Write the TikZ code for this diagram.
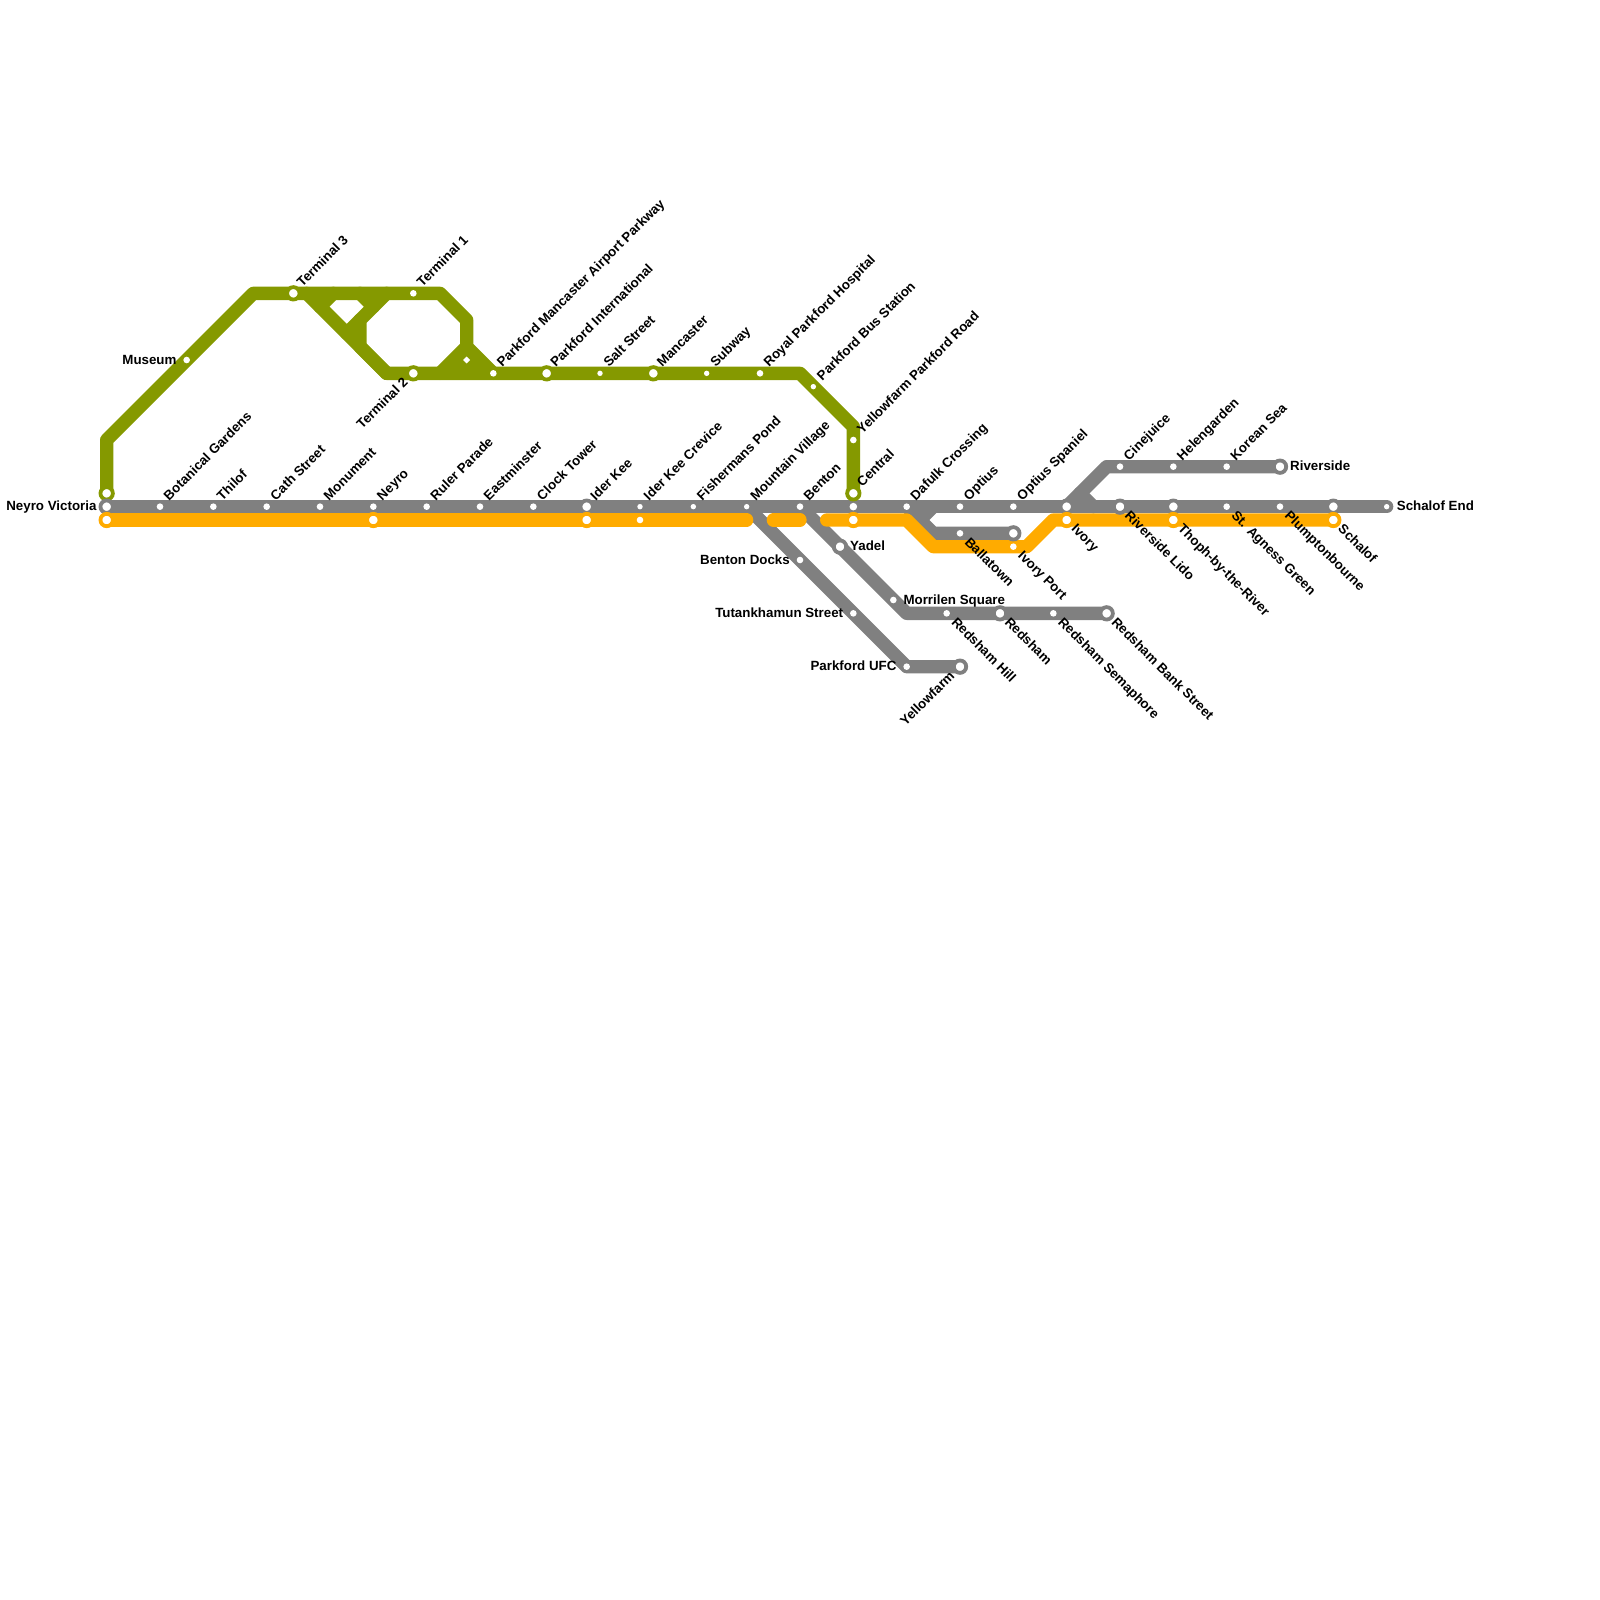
\documentclass[tikz,border=0pt]{standalone}
\usepackage{fontspec}
\setmainfont{Liberation Sans}
\definecolor{lgreen}{RGB}{133,153,0}
\definecolor{lgrey}{RGB}{128,128,128}
\definecolor{lorange}{RGB}{255,171,0}
\tikzset{
  x=13.3333pt,y=-13.3333pt,
  tracksty/.style={line width=13.33pt,line cap=round,line join=round},
  greenline/.style={tracksty,draw=lgreen},
  greyline/.style={tracksty,draw=lgrey},
  orangeline/.style={tracksty,draw=lorange},
  dotS/.style={circle,fill=white,draw=none,inner sep=0pt,minimum size=6.6pt},
  dotXS/.style={circle,fill=white,draw=none,inner sep=0pt,minimum size=5.4pt},
  dotM/.style={circle,fill=white,draw=none,inner sep=0pt,minimum size=7.6pt},
  ringB/.style={circle,fill=white,draw=#1,line width=3.8pt,inner sep=0pt,minimum size=12.4pt},
  txt/.style={font=\fontsize{13.33}{15}\selectfont\bfseries,text=black,inner sep=0pt},
  lne/.style={txt,xshift=9pt,yshift=5.5pt,rotate=45,anchor=base west},
  lse/.style={txt,xshift=4pt,yshift=-9.7pt,rotate=-45,anchor=base west},
  lsw/.style={txt,xshift=-4.5pt,yshift=-10pt,rotate=45,anchor=base east},
  lw/.style={txt,xshift=-10pt,yshift=-4.1pt,anchor=base east},
  le/.style={txt,xshift=10pt,yshift=-4pt,anchor=base west},
}
\newcommand{\lab}[3]{\node[#1] (lb#2) at (#2) {#3};}
\begin{document}
\begin{tikzpicture}
\useasboundingbox (0,0) rectangle (120,120);
% way points
\coordinate (gA) at (8,37); \coordinate (gB) at (8,33); \coordinate (gC) at (19,22);
\coordinate (gD) at (33,22); \coordinate (gE) at (35,24); \coordinate (gF) at (35,26);
\coordinate (gG) at (37,28); \coordinate (gH) at (33,28); \coordinate (gI) at (29,28);
\coordinate (gJ) at (60,28); \coordinate (gK) at (64,32); \coordinate (gL) at (64,37);
\coordinate (gM) at (23,22); \coordinate (gN) at (29,22); \coordinate (gO) at (27,24);
\coordinate (gP) at (27,26); \coordinate (gQ) at (25,22); \coordinate (gR) at (24,23);
\coordinate (gS) at (27,22); \coordinate (gT) at (28,23); \coordinate (gV) at (26,25);
\coordinate (mA) at (8,38); \coordinate (mB) at (104,38);
\coordinate (bA) at (56,38); \coordinate (bB) at (68,50); \coordinate (bC) at (72,50);
\coordinate (cA) at (60,38); \coordinate (cB) at (68,46); \coordinate (cC) at (83,46);
\coordinate (dA) at (68,38); \coordinate (dB) at (70,40); \coordinate (dC) at (76,40);
\coordinate (dD) at (70,38); \coordinate (dE) at (69,39);
\coordinate (eA) at (80,38); \coordinate (eB) at (83,35); \coordinate (eC) at (96,35);
\coordinate (eD) at (81,37); \coordinate (eE) at (82,38);
\coordinate (oA) at (8,39); \coordinate (oB) at (56,39); \coordinate (oC) at (58,39);
\coordinate (oD) at (60,39); \coordinate (oE) at (62,39); \coordinate (oF) at (68,39);
\coordinate (oG) at (70,41); \coordinate (oH) at (77,41); \coordinate (oI) at (79,39);
\coordinate (oJ) at (100,39);
% green line
\draw[greenline] (gA) -- (gB) -- (gC) -- (gD) -- (gE) -- (gF) -- (gG);
\draw[greenline] (gH) -- (gF);
\draw[greenline] (gI) -- (gJ) -- (gK) -- (gL);
\draw[greenline] (gM) -- (gI);
\draw[greenline] (gN) -- (gO) -- (gP) -- (gI);
\draw[greenline] (gO) -- (gV);
\draw[greenline] (gQ) -- (gR);
\draw[greenline] (gS) -- (gT);
\fill[lgreen] (gF) -- (gG) -- (gH) -- cycle;
\fill[white] (35,26.74) -- (35.26,27) -- (35,27.26) -- (34.74,27) -- cycle;
% grey line
\draw[greyline] (mA) -- (mB);
\draw[greyline] (bA) -- (bB) -- (bC);
\draw[greyline] (cA) -- (cB) -- (cC);
\draw[greyline] (dA) -- (dB) -- (dC);
\draw[greyline] (dD) -- (dE);
\draw[greyline] (eA) -- (eB) -- (eC);
\draw[greyline] (eD) -- (eE);
% orange line
\draw[orangeline] (oA) -- (oB);
\draw[orangeline] (oC) -- (oD);
\draw[orangeline] (oE) -- (oF) -- (oG) -- (oH) -- (oI) -- (oJ);
% stations, green
\node[ringB=lgreen] (sNVg) at (8,37) {};
\node[dotS] (sMuseum) at (14,27) {};
\node[ringB=lgreen] (sT3) at (22,22) {};
\node[dotS] (sT1) at (31,22) {};
\node[ringB=lgreen] (sT2) at (31,28) {};
\node[dotS] (sPMAP) at (37,28) {};
\node[ringB=lgreen] (sPI) at (41,28) {};
\node[dotXS] (sSalt) at (45,28) {};
\node[ringB=lgreen] (sMan) at (49,28) {};
\node[dotXS] (sSub) at (53,28) {};
\node[dotS] (sRPH) at (57,28) {};
\node[dotXS] (sPBS) at (61,29) {};
\node[dotS] (sYPR) at (64,33) {};
\node[ringB=lgreen] (sCg) at (64,37) {};
% stations, grey
\node[ringB=lgrey] (sNV) at (8,38) {};
\node[dotS] (sBot) at (12,38) {};
\node[dotS] (sThi) at (16,38) {};
\node[dotS] (sCath) at (20,38) {};
\node[dotS] (sMon) at (24,38) {};
\node[dotS] (sNey) at (28,38) {};
\node[dotS] (sRul) at (32,38) {};
\node[dotS] (sEas) at (36,38) {};
\node[dotS] (sClo) at (40,38) {};
\node[ringB=lgrey] (sIde) at (44,38) {};
\node[dotXS] (sIKC) at (48,38) {};
\node[dotXS] (sFis) at (52,38) {};
\node[dotXS] (sMV) at (56,38) {};
\node[dotS] (sBen) at (60,38) {};
\node[dotM] (sCen) at (64,38) {};
\node[dotS] (sDaf) at (68,38) {};
\node[dotS] (sOpt) at (72,38) {};
\node[dotS] (sOS) at (76,38) {};
\node[ringB=lgrey] (sIvo) at (80,38) {};
\node[ringB=lgrey] (sRL) at (84,38) {};
\node[ringB=lgrey] (sTho) at (88,38) {};
\node[dotS] (sStA) at (92,38) {};
\node[dotS] (sPlu) at (96,38) {};
\node[ringB=lgrey] (sSch) at (100,38) {};
\node[dotXS] (sSE) at (104,38) {};
\node[dotS] (sBal) at (72,40) {};
\node[ringB=lgrey] (sBalE) at (76,40) {};
\node[dotS] (sBD) at (60,42) {};
\node[dotS] (sTut) at (64,46) {};
\node[dotS] (sUFC) at (68,50) {};
\node[ringB=lgrey] (sYel) at (72,50) {};
\node[ringB=lgrey] (sYad) at (63,41) {};
\node[dotS] (sMor) at (67,45) {};
\node[dotS] (sRH) at (71,46) {};
\node[ringB=lgrey] (sRed) at (75,46) {};
\node[dotS] (sRS) at (79,46) {};
\node[ringB=lgrey] (sRBS) at (83,46) {};
\node[dotS] (sCin) at (84,35) {};
\node[dotS] (sHel) at (88,35) {};
\node[dotS] (sKor) at (92,35) {};
\node[ringB=lgrey] (sRiv) at (96,35) {};
% stations, orange
\node[ringB=lorange] (oNV) at (8,39) {};
\node[ringB=lorange] (oNey) at (28,39) {};
\node[ringB=lorange] (oIde) at (44,39) {};
\node[dotS] (oIKC) at (48,39) {};
\node[ringB=lorange] (oCen) at (64,39) {};
\node[dotS] (oIP) at (76,41) {};
\node[ringB=lorange] (oIvo) at (80,39) {};
\node[ringB=lorange] (oTho) at (88,39) {};
\node[ringB=lorange] (oSch) at (100,39) {};
% labels
\lab{lw}{sNV}{Neyro Victoria}
\lab{lw}{sMuseum}{Museum}
\lab{lne}{sT3}{Terminal 3}
\lab{lne}{sT1}{Terminal 1}
\lab{lsw}{sT2}{Terminal 2}
\lab{lne}{sPMAP}{Parkford Mancaster Airport Parkway}
\lab{lne}{sPI}{Parkford International}
\lab{lne}{sSalt}{Salt Street}
\lab{lne}{sMan}{Mancaster}
\lab{lne}{sSub}{Subway}
\lab{lne}{sRPH}{Royal Parkford Hospital}
\lab{lne}{sPBS}{Parkford Bus Station}
\lab{lne}{sYPR}{Yellowfarm Parkford Road}
\lab{lne}{sCg}{Central}
\lab{lne}{sBot}{Botanical Gardens}
\lab{lne}{sThi}{Thilof}
\lab{lne}{sCath}{Cath Street}
\lab{lne}{sMon}{Monument}
\lab{lne}{sNey}{Neyro}
\lab{lne}{sRul}{Ruler Parade}
\lab{lne}{sEas}{Eastminster}
\lab{lne}{sClo}{Clock Tower}
\lab{lne}{sIde}{Ider Kee}
\lab{lne}{sIKC}{Ider Kee Crevice}
\lab{lne}{sFis}{Fishermans Pond}
\lab{lne}{sMV}{Mountain Village}
\lab{lne}{sBen}{Benton}
\lab{lne}{sDaf}{Dafulk Crossing}
\lab{lne}{sOpt}{Optius}
\lab{lne}{sOS}{Optius Spaniel}
\lab{lne}{sCin}{Cinejuice}
\lab{lne}{sHel}{Helengarden}
\lab{lne}{sKor}{Korean Sea}
\lab{le}{sRiv}{Riverside}
\lab{le}{sSE}{Schalof End}
\lab{lse}{oIvo}{Ivory}
\lab{lse}{sRL}{Riverside Lido}
\lab{lse}{oTho}{Thoph-by-the-River}
\lab{lse}{sStA}{St. Agness Green}
\lab{lse}{sPlu}{Plumptonbourne}
\lab{lse}{oSch}{Schalof}
\lab{lse}{sBal}{Ballatown}
\lab{lse}{oIP}{Ivory Port}
\lab{lw}{sBD}{Benton Docks}
\lab{lw}{sTut}{Tutankhamun Street}
\lab{lw}{sUFC}{Parkford UFC}
\lab{lsw}{sYel}{Yellowfarm}
\lab{le}{sYad}{Yadel}
\lab{le}{sMor}{Morrilen Square}
\lab{lse}{sRH}{Redsham Hill}
\lab{lse}{sRed}{Redsham}
\lab{lse}{sRS}{Redsham Semaphore}
\lab{lse}{sRBS}{Redsham Bank Street}
\end{tikzpicture}
\end{document}
